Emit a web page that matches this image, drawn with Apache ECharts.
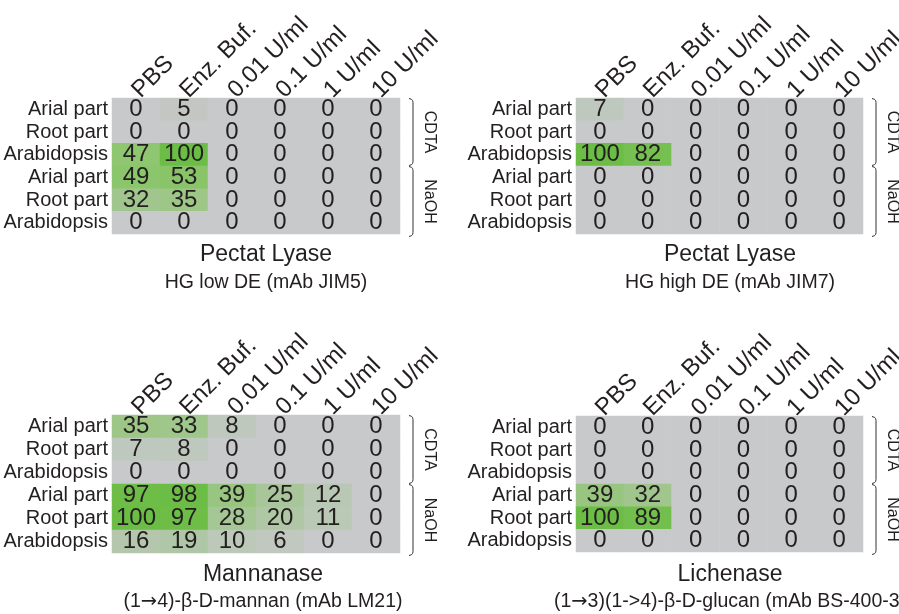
<!DOCTYPE html>
<html><head><meta charset="utf-8">
<script src="https://cdn.jsdelivr.net/npm/echarts@6/dist/echarts.min.js"></script>
<style>html,body{margin:0;padding:0;background:#fff}#c{width:899px;height:614px}</style>
</head><body><div id="c"></div>
<script>
// ---- data ----
const columns = ['PBS', 'Enz. Buf.', '0.01 U/ml', '0.1 U/ml', '1 U/ml', '10 U/ml'];
const rowLabels = ['Arial part', 'Root part', 'Arabidopsis', 'Arial part', 'Root part', 'Arabidopsis'];
const extractions = ['CDTA', 'NaOH'];
const enzymes = ['Pectat Lyase', 'Pectat Lyase', 'Mannanase', 'Lichenase'];
const epitopes = ['HG low DE (mAb JIM5)', 'HG high DE (mAb JIM7)', '(1\u21924)-\u03b2-D-mannan (mAb LM21)', '(1\u21923)(1->4)-\u03b2-D-glucan (mAb BS-400-3)'];
const jim5 = [
  [0, 5, 0, 0, 0, 0],
  [0, 0, 0, 0, 0, 0],
  [47, 100, 0, 0, 0, 0],
  [49, 53, 0, 0, 0, 0],
  [32, 35, 0, 0, 0, 0],
  [0, 0, 0, 0, 0, 0]
];
const jim7 = [
  [7, 0, 0, 0, 0, 0],
  [0, 0, 0, 0, 0, 0],
  [100, 82, 0, 0, 0, 0],
  [0, 0, 0, 0, 0, 0],
  [0, 0, 0, 0, 0, 0],
  [0, 0, 0, 0, 0, 0]
];
const lm21 = [
  [35, 33, 8, 0, 0, 0],
  [7, 8, 0, 0, 0, 0],
  [0, 0, 0, 0, 0, 0],
  [97, 98, 39, 25, 12, 0],
  [100, 97, 28, 20, 11, 0],
  [16, 19, 10, 6, 0, 0]
];
const bs400 = [
  [0, 0, 0, 0, 0, 0],
  [0, 0, 0, 0, 0, 0],
  [0, 0, 0, 0, 0, 0],
  [39, 32, 0, 0, 0, 0],
  [100, 89, 0, 0, 0, 0],
  [0, 0, 0, 0, 0, 0]
];
const panels = [jim5, jim7, lm21, bs400];

// ---- layout / style ----
const FONT = 'Liberation Sans, Arial, Helvetica, sans-serif';
const TXT = '#231f20';
const grids = [
  { left: 112, top: 98, width: 288, height: 136 },
  { left: 576, top: 98, width: 287, height: 136 },
  { left: 112, top: 415, width: 288, height: 138 },
  { left: 576, top: 416, width: 287, height: 136 }
];
const titlePos = [[266, 255, 283], [730, 255, 283], [263, 575, 602], [730, 575, 602]];

const chart = echarts.init(document.getElementById('c'), null, { renderer: 'canvas' });

const xAxes = [], yAxes = [], series = [];
panels.forEach((m, i) => {
  xAxes.push({
    type: 'category', gridIndex: i, position: 'top', data: columns,
    axisLine: { show: false }, axisTick: { show: false }, splitLine: { show: false },
    axisLabel: { interval: 0, rotate: -45, margin: 4, padding: [0, 0, 26, 0],
      fontSize: 24, color: TXT, fontFamily: FONT, hideOverlap: false }
  });
  yAxes.push({
    type: 'category', gridIndex: i, inverse: true,
    data: rowLabels.map((_, r) => 'r' + r),
    axisLine: { show: false }, axisTick: { show: false }, splitLine: { show: false },
    axisLabel: { interval: 0, margin: 4, fontSize: 20, color: TXT, fontFamily: FONT,
      formatter: (v, idx) => rowLabels[idx] }
  });
  const data = [];
  m.forEach((row, r) => row.forEach((v, c) => data.push([c, r, v])));
  series.push({
    type: 'heatmap', xAxisIndex: i, yAxisIndex: i, data: data,
    label: { show: true, fontSize: 24, color: TXT, fontFamily: FONT,
      formatter: p => String(p.value[2]) },
    itemStyle: { borderWidth: 0 },
    emphasis: { disabled: true }
  });
});

chart.setOption({
  animation: false,
  backgroundColor: '#ffffff',
  grid: grids.map(g => Object.assign({ containLabel: false, outerBoundsMode: 'none' }, g)),
  xAxis: xAxes,
  yAxis: yAxes,
  visualMap: {
    type: 'continuous', show: false, min: 0, max: 100, seriesIndex: [0, 1, 2, 3],
    inRange: { color: ['#c8c9cb', '#a9c69b', '#8bc66a', '#7ac157', '#6bbd45'] }
  },
  series: series
});

// ---- annotations derived from the grids ----
const graphics = [];
panels.forEach((m, i) => {
  const p0 = chart.convertToPixel({ gridIndex: i }, [0, 0]);
  const p5 = chart.convertToPixel({ gridIndex: i }, [columns.length - 1, rowLabels.length - 1]);
  const band = (p5[1] - p0[1]) / (rowLabels.length - 1);
  const colBand = (p5[0] - p0[0]) / (columns.length - 1);
  const top = p0[1] - band / 2;
  const bottom = p5[1] + band / 2;
  const right = p5[0] + colBand / 2;
  const bx = right + 13;
  const groups = [[top, top + band * 3], [top + band * 3, bottom + 3]];
  groups.forEach((gy, k) => {
    const y1 = gy[0] + 0.5, y2 = gy[1] - 0.5;
    graphics.push({
      type: 'polyline',
      shape: { points: [[bx - 4, y1], [bx - 1.5, y1 + 0.8], [bx - 0.3, y1 + 2.2], [bx, y1 + 4],
        [bx, y2 - 4], [bx - 0.3, y2 - 2.2], [bx - 1.5, y2 - 0.8], [bx - 4, y2]] },
      style: { fill: null, stroke: '#333', lineWidth: 1 }
    });
    graphics.push({
      type: 'text', x: right + 29, y: (gy[0] + gy[1]) / 2, rotation: -Math.PI / 2,
      style: { text: extractions[k], font: '16px ' + FONT, fill: TXT,
        textAlign: 'center', textVerticalAlign: 'middle' }
    });
  });
  graphics.push({
    type: 'text', x: titlePos[i][0], y: titlePos[i][1],
    style: { text: enzymes[i], font: '23px ' + FONT, fill: TXT, textAlign: 'center', textVerticalAlign: 'middle' }
  });
  graphics.push({
    type: 'text', x: titlePos[i][0], y: titlePos[i][2],
    style: { text: epitopes[i].replace(/\u2192/g, '{a|\u2192}'),
      fontSize: 19.5, fontFamily: FONT, fill: TXT, textAlign: 'center', textVerticalAlign: 'middle',
      rich: { a: { fontSize: 19.5, fontFamily: 'DejaVu Sans', fill: TXT } } }
  });
});
chart.setOption({ graphic: graphics });
</script></body></html>
